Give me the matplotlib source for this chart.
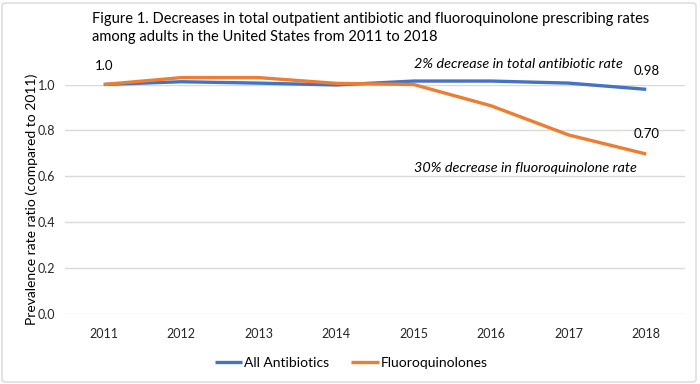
import matplotlib
matplotlib.use("Agg")
import matplotlib.pyplot as plt
from matplotlib.patches import FancyBboxPatch

# =========================================================
# DADOS
# =========================================================

anos = ["2011", "2012", "2013", "2014", "2015", "2016", "2017", "2018"]
all_antibiotics = [1.000, 1.012, 1.006, 0.998, 1.015, 1.015, 1.006, 0.979]
fluoroquinolones = [1.000, 1.030, 1.030, 1.005, 1.000, 0.907, 0.780, 0.697]
y_ticks = [0.0, 0.2, 0.4, 0.6, 0.8, 1.0]

titulo = ("Figure 1. Decreases in total outpatient antibiotic and fluoroquinolone prescribing rates\n"
          "among adults in the United States from 2011 to 2018")

AZUL = "#4472C4"
LARANJA = "#ED7D31"
TEXTO = "#262626"

plt.rcParams["font.family"] = ["Lato", "DejaVu Sans"]

# =========================================================
# GRAFICO
# =========================================================

fig = plt.figure(figsize=(7.0, 3.84), dpi=100)
ax = fig.add_axes([65 / 700, 1 - 314 / 384, 620 / 700, (314 - 84.5) / 384])

x = list(range(len(anos)))
ax.plot(x, all_antibiotics, color=AZUL, linewidth=2.4, label="All Antibiotics",
        clip_on=False, solid_capstyle="butt", zorder=3)
ax.plot(x, fluoroquinolones, color=LARANJA, linewidth=2.4, label="Fluoroquinolones",
        clip_on=False, solid_capstyle="butt", zorder=4)

ax.set_xlim(-0.5, len(anos) - 0.5)
ax.set_ylim(0, 1.0)
ax.set_xticks(x)
ax.set_xticklabels(anos)
ax.set_yticks(y_ticks)
ax.set_yticklabels([f"{v:.1f}" for v in y_ticks])
ax.tick_params(length=0, labelsize=9, colors=TEXTO, pad=7)
ax.tick_params(axis="x", pad=10)
ax.grid(axis="y", color="#D9D9D9", linewidth=1)
ax.set_axisbelow(True)
for s in ax.spines.values():
    s.set_visible(False)

ax.set_ylabel("Prevalence rate ratio (compared to 2011)", fontsize=10, color="black", labelpad=0)

# rotulos
ax.annotate("1.0", (0, all_antibiotics[0]), xytext=(0, 9), textcoords="offset points",
            ha="center", va="bottom", fontsize=9.5, color="black")
ax.annotate(f"{all_antibiotics[-1]:.2f}", (7, all_antibiotics[-1]), xytext=(0, 9),
            textcoords="offset points", ha="center", va="bottom", fontsize=9.5, color="black")
ax.annotate(f"{fluoroquinolones[-1]:.2f}", (7, fluoroquinolones[-1]), xytext=(0, 10),
            textcoords="offset points", ha="center", va="bottom", fontsize=9.5, color="black")

fig.text(414 / 700, 1 - 64 / 384, "2% decrease in total antibiotic rate", ha="left", va="center",
         fontsize=10.4, style="italic", color="black")
fig.text(414 / 700, 1 - 168 / 384, "30% decrease in fluoroquinolone rate", ha="left", va="center",
         fontsize=10.4, style="italic", color="black")

fig.text(92 / 700, 1 - 28 / 384, titulo, ha="left", va="center", fontsize=10.5,
         color="black", linespacing=1.35)

leg = ax.legend(loc="center", bbox_to_anchor=(351 / 700, 1 - 363 / 384),
                bbox_transform=fig.transFigure, ncol=2, frameon=False, fontsize=10,
                handlelength=2.0, handletextpad=0.1, columnspacing=1.6)

# borda do grafico
borda = FancyBboxPatch((2 / 700, 2 / 384), 694 / 700, 379 / 384,
                       boxstyle="round,pad=0,rounding_size=0.006", transform=fig.transFigure,
                       facecolor="none", edgecolor="#D9D9D9", linewidth=1)
fig.patches.append(borda)

fig.savefig("out.png", dpi=100, facecolor="white")
plt.close(fig)
